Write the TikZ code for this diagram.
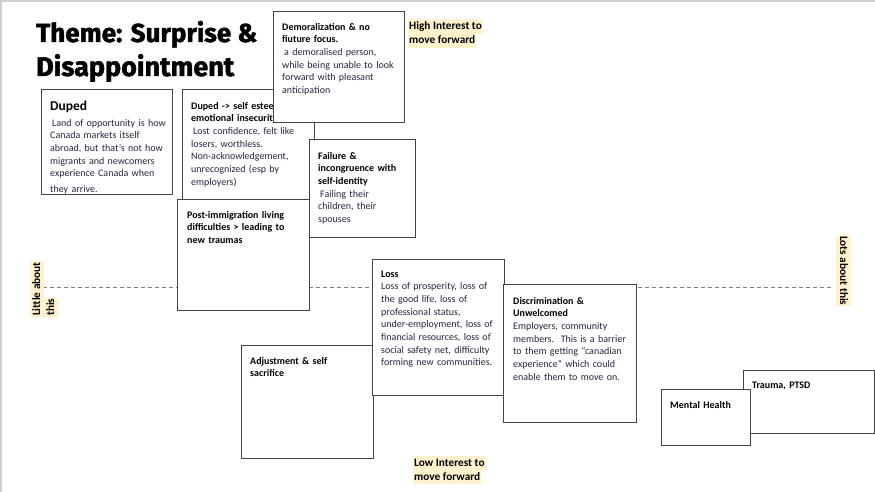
\documentclass[tikz,border=0pt]{standalone}
\usepackage{fontspec}
\setmainfont{Carlito}
\newfontfamily\titlefont{Fira Sans}[BoldFeatures={FakeBold=1.6}]
\definecolor{edge}{HTML}{444444}
\definecolor{hl}{HTML}{FFF2CC}
\definecolor{bodyc}{HTML}{262640}
\definecolor{frame}{HTML}{D0D0D0}
\begin{document}
\begin{tikzpicture}[x=1pt,y=-1pt,
  box/.style={draw=edge, fill=white, line width=1.2pt, inner sep=0pt, anchor=north west},
  txt/.style={anchor=north west, inner sep=0pt, align=left, text width=#1, text=bodyc,
              font=\fontsize{10}{12.7}\selectfont},
  txt/.default=126pt,
  hlab/.style={fill=hl, inner xsep=1pt, inner ysep=1pt, text height=9.5pt, text depth=3pt,
               anchor=base west, font=\fontsize{11.3}{12}\selectfont\bfseries},
  ttl/.style={anchor=base west, inner sep=0pt, font=\titlefont\bfseries\fontsize{26}{30}\selectfont}
]
\useasboundingbox (0,0) rectangle (875,492);
\fill[white] (0,0) rectangle (875,492);
% slide frame
\coordinate (f0) at (0,0.8);
\coordinate (f1) at (875,0.8);
\coordinate (f2) at (0.8,492);
\draw[frame, line width=1.6pt] (f2) -- (0.8,0.8) -- (f1);

% axis
\coordinate (axl) at (43,287);
\coordinate (axr) at (833,287);
\draw[gray, line width=0.8pt, dash pattern=on 4pt off 3pt] (axl) -- (axr);

% title
\node[ttl] (t1) at (36,42) {\resizebox{221pt}{!}{Theme: Surprise \&}};
\node[ttl] (t2) at (36,76) {\resizebox{198pt}{!}{Disappointment}};

% Duped
\node[box, minimum width=131pt, minimum height=105pt] (duped) at (41,89) {};
\node[anchor=base west, inner sep=0pt, font=\fontsize{13.5}{15}\selectfont\bfseries] (dupedh) at (50,111) {Duped};
\node[txt] (dupedt) at (50,117) {\strut\hspace*{2pt}Land of opportunity is how\\
Canada markets itself\\ abroad, but that's not how\\ migrants and newcomers\\
experience Canada when\\[3pt] they arrive.};

% Duped -> self esteem
\node[box, minimum width=132pt, minimum height=126pt] (dself) at (182,89) {};
\node[txt] (dselft) at (191,100) {\strut\bfseries\color{black}Duped -> self esteem \&\\
emotional insecurity\\ \mdseries\color{bodyc}\hspace*{2pt}Lost confidence, felt like\\
losers, worthless.\\ Non-acknowledgement,\\ unrecognized (esp by\\ employers)};

% Demoralization
\node[box, minimum width=131pt, minimum height=111pt] (demor) at (273,11) {};
\node[txt] (demort) at (282,21) {\strut\bfseries\color{black}Demoralization \& no\\
fiuture focus.\\ \mdseries\color{bodyc}\hspace*{2pt}a demoralised person,\\
while being unable to look\\ forward with pleasant\\ anticipation};

% Failure
\node[box, minimum width=106pt, minimum height=98pt] (fail) at (309,139) {};
\node[txt=100pt] (failt) at (318,150) {\strut\bfseries\color{black}Failure \&\\
incongruence with\\ self-identity\\ \mdseries\color{bodyc}\hspace*{2pt}Failing their\\
children, their\\ spouses};

% Post-immigration
\node[box, minimum width=132pt, minimum height=111pt] (post) at (177,199) {};
\node[txt] (postt) at (187,209) {\strut\bfseries\color{black}Post-immigration living\\
difficulties > leading to\\ new traumas};

% Adjustment
\node[box, minimum width=132pt, minimum height=113pt] (adj) at (241,345) {};
\node[txt] (adjt) at (250,355) {\strut\bfseries\color{black}Adjustment \& self\\ sacrifice};

% Loss
\node[box, minimum width=132pt, minimum height=136pt] (loss) at (372,259) {};
\node[txt] (losst) at (381,268) {\strut\bfseries\color{black}Loss\\ \mdseries\color{bodyc}Loss of prosperity, loss of\\
the good life, loss of\\ professional status,\\ under-employment, loss of\\
financial resources, loss of\\ social safety net, difficulty\\ forming new communities.};

% Discrimination
\node[box, minimum width=133pt, minimum height=138pt] (disc) at (503,284) {};
\node[txt] (disct) at (513,295) {\strut\bfseries\color{black}Discrimination \&\\
Unwelcomed\\ \mdseries\color{bodyc}Employers, community\\ members.\ \ This is a barrier\\
to them getting “canadian\\ experience” which could\\ enable them to move on.};

% Trauma
\node[box, minimum width=131pt, minimum height=63pt] (trauma) at (743,370) {};
\node[txt] (traumat) at (752,379) {\strut\bfseries\color{black}Trauma, PTSD};

% Mental Health
\node[box, minimum width=89pt, minimum height=56pt] (mental) at (661,389) {};
\node[txt=80pt] (mentalt) at (670,399) {\strut\bfseries\color{black}Mental Health};

% interest labels
\node[hlab] (hi1) at (408,30) {High Interest to};
\node[hlab] (hi2) at (408,44) {move forward};
\node[hlab] (lo1) at (413,466) {Low Interest to};
\node[hlab] (lo2) at (413,480) {move forward};

% side labels
\node[hlab, rotate=90] (la1) at (40,317) {Little about};
\node[hlab, rotate=90] (la2) at (54,317) {this};
\node[hlab, rotate=-90] (lr1) at (840,235) {Lots about this};
\end{tikzpicture}
\end{document}
